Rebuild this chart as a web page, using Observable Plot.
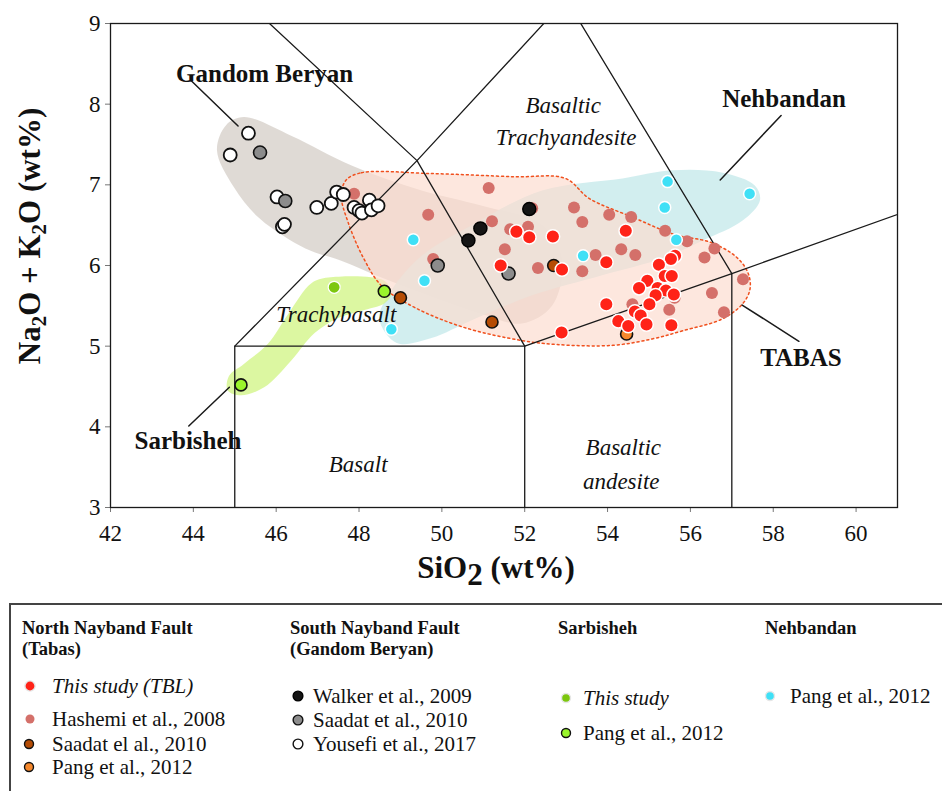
<!DOCTYPE html>
<html><head><meta charset="utf-8">
<script src="https://cdn.jsdelivr.net/npm/d3@7"></script>
<script src="https://cdn.jsdelivr.net/npm/@observablehq/plot@0.6"></script>
<style>
body{margin:0;background:#fff;}
#wrap{position:relative;width:942px;height:791px;overflow:hidden;background:#fff;}
#chart svg, #legend svg{display:block;}
</style></head><body>
<div id="wrap"><div id="chart"></div><div id="legend"></div></div>
<script>
// ---------- axis ticks ----------
const xTicks = [42,44,46,48,50,52,54,56,58,60];
const yTicks = [3,4,5,6,7,8,9];

// ---------- data (SiO2, Na2O+K2O) ----------
const tblThisStudy = [[51.80,6.42],[52.11,6.35],[52.68,6.36],[51.42,6.00],[52.90,5.95],[52.89,5.17],[54.44,6.43],[53.97,6.04],
  [55.63,6.12],[55.53,6.08],[55.24,6.01],[55.38,5.87],[55.55,5.87],[54.96,5.81],[54.76,5.72],[55.21,5.72],[55.41,5.69],
  [55.16,5.63],[55.60,5.64],[55.01,5.52],[53.97,5.52],[54.66,5.43],[54.80,5.38],[54.26,5.31],[54.94,5.27],[55.54,5.26],[54.50,5.25]];
const hashemi2008 = [[47.88,6.89],[49.67,6.63],[49.79,6.08],[51.13,6.96],[52.18,6.71],[53.19,6.72],[51.21,6.55],[51.65,6.45],
  [52.08,6.48],[51.52,6.20],[52.32,5.97],[54.04,6.63],[54.57,6.60],[53.39,6.54],[55.39,6.43],[55.92,6.30],[54.33,6.20],
  [53.71,6.13],[54.67,6.13],[56.58,6.21],[56.34,6.10],[53.39,5.93],[57.27,5.83],[56.52,5.66],[54.60,5.52],[55.49,5.45],[56.81,5.42],[55.62,5.60]];
const saadatTabas2010 = [[49.00,5.60],[51.21,5.30],[52.70,6.00]];
const pangTabas2012 = [[54.46,5.15]];
const walker2009 = [[50.64,6.31],[50.93,6.46],[52.11,6.70]];
const saadatGB2010 = [[45.61,7.40],[46.22,6.80],[49.90,6.00],[51.61,5.90]];
const yousefi2017 = [[45.33,7.64],[44.89,7.37],[46.02,6.85],[46.15,6.48],[46.20,6.51],[46.98,6.72],[47.33,6.77],[47.46,6.91],
  [47.62,6.88],[47.88,6.72],[48.00,6.68],[48.07,6.65],[48.25,6.81],[48.30,6.69],[48.46,6.74]];
const sarbThisStudy = [[47.40,5.73]];
const sarbPang2012 = [[48.61,5.68],[45.15,4.52]];
const nehPang2012 = [[49.31,6.32],[49.58,5.81],[48.78,5.21],[53.41,6.12],[55.38,6.72],[55.45,7.04],[55.66,6.32],[57.43,6.89]];

// ---------- field outlines (data units) ----------
const gandomField = [[45.22,7.84],[46.36,7.61],[47.82,7.24],[49.51,6.93],[50.97,6.74],[52.42,6.50],[52.90,6.06],[52.66,5.50],
  [51.93,5.28],[50.97,5.40],[49.75,5.62],[48.54,5.85],[47.57,6.06],[46.85,6.18],[46.29,6.33],[45.56,6.60],[44.98,6.97],[44.57,7.43],[44.79,7.74]];
const nehbandanField = [[48.49,5.34],[48.78,5.69],[49.51,6.12],[50.72,6.50],[52.42,6.93],[54.36,7.08],[55.57,7.18],[56.78,7.15],
  [57.56,6.99],[57.68,6.81],[57.27,6.56],[56.30,6.31],[55.33,6.09],[53.87,5.88],[52.18,5.63],[50.72,5.32],[49.75,5.10],[48.91,5.04]];
const tabasField = [[47.69,7.06],[48.06,7.15],[49.75,7.14],[51.76,7.10],[52.98,7.08],[53.56,6.83],[54.60,6.60],[55.64,6.38],
  [56.47,6.29],[57.10,6.11],[57.39,5.91],[57.44,5.71],[57.27,5.53],[56.78,5.34],[55.81,5.19],[55.08,5.09],[54.12,5.01],
  [52.78,5.02],[51.93,5.07],[50.55,5.23],[49.34,5.48],[48.54,5.75],[48.11,6.09],[47.74,6.53],[47.57,6.87]];
const sarbishehField = [[47.26,5.85],[48.61,5.81],[48.78,5.65],[48.61,5.53],[48.06,5.44],[47.50,5.35],[46.92,5.16],[46.36,4.82],
  [45.71,4.49],[45.15,4.39],[44.83,4.45],[44.86,4.63],[45.22,4.78],[45.80,5.03],[46.29,5.40],[46.85,5.78]];

// ---------- TAS boundaries (Le Bas et al. 1986) ----------
const tasLines = [
  [[45,3],[45,5],[52,5],[52,3]],
  [[52,5],[57,5.9],[57,3]],
  [[45,5],[49.4,7.3],[53,9.3]],
  [[52,5],[49.4,7.3],[45,9.4]],
  [[57,5.9],[53,9.3]],
  [[57,5.9],[63,7]]
];
const fieldNames = ["Basaltic","Trachyandesite","Trachybasalt","Basalt","Basaltic","andesite"];
const fieldNameX = [52.93,53.0,47.45,47.98,54.38,54.33];
const fieldNameY = [7.98,7.59,5.39,3.53,3.74,3.32];

const areaNames = ["Gandom Beryan","Nehbandan","TABAS","Sarbisheh"];
const areaNameX = [45.72,58.26,58.67,43.87];
const areaNameY = [8.38,8.06,4.85,3.83];
const leaders = [
  [[43.95,8.29],[45.08,7.73]],
  [[58.19,7.86],[56.72,7.06]],
  [[57.25,5.51],[58.62,5.06]],
  [[43.89,4.01],[44.87,4.49]]
];

// ---------- styles ----------
const S = {
  tbl:{fill:"#ff2318",stroke:"#ffffff",strokeWidth:1.5,r:6.8},
  hashemi:{fill:"#d4706a",stroke:"none",strokeWidth:0,r:6},
  saadatT:{fill:"#b54c05",stroke:"#111",strokeWidth:1.6,r:6},
  pangT:{fill:"#f5882c",stroke:"#111",strokeWidth:1.6,r:6},
  walker:{fill:"#151515",stroke:"#000",strokeWidth:1.5,r:6.5},
  saadatGB:{fill:"#8c8c8c",stroke:"#111",strokeWidth:1.6,r:6.5},
  yousefi:{fill:"#ffffff",stroke:"#111",strokeWidth:1.8,r:6.5},
  sarbThis:{fill:"#7cc70e",stroke:"#ffffff",strokeWidth:1.2,r:6},
  sarbPang:{fill:"#9af52c",stroke:"#111",strokeWidth:1.6,r:6},
  neh:{fill:"#3fe0f6",stroke:"#ffffff",strokeWidth:1.5,r:6}
};
const serif = "Liberation Serif, Times New Roman, serif";
const dots = (arr, s) => Plot.dot(arr, {x: d => d[0], y: d => d[1], r: s.r, fill: s.fill, stroke: s.stroke, strokeWidth: s.strokeWidth});
const field = (arr, fill, opacity) => Plot.line(arr, {x: d => d[0], y: d => d[1], curve: "catmull-rom-closed", fill, fillOpacity: opacity, stroke: "none"});

const chart = Plot.plot({
  width: 942, height: 603,
  marginLeft: 110, marginRight: 45, marginTop: 23, marginBottom: 96,
  style: {fontFamily: serif, fontSize: "23px", color: "#111", background: "#fff", overflow: "visible"},
  x: {domain: [42, 61], ticks: xTicks, tickFormat: d => String(d), tickSize: 5, tickPadding: 12, label: null},
  y: {domain: [3, 9], ticks: yTicks, tickFormat: d => String(d), tickSize: 5, tickPadding: 5, label: null},
  marks: [
    field(gandomField, "#d9d4ce", 0.85),
    field(nehbandanField, "#cdeced", 0.9),
    field(sarbishehField, "#d3f58a", 0.8),
    field(tabasField, "#fcdccf", 0.68),
    Plot.line(tabasField, {x: d => d[0], y: d => d[1], curve: "catmull-rom-closed", stroke: "#f0501e", strokeWidth: 1.5, strokeDasharray: "2,3", fill: "none"}),
    ...tasLines.map(l => Plot.line(l, {x: d => d[0], y: d => d[1], stroke: "#1a1a1a", strokeWidth: 1.3, clip: true})),
    ...leaders.map(l => Plot.line(l, {x: d => d[0], y: d => d[1], stroke: "#1a1a1a", strokeWidth: 1.5})),
    Plot.text(fieldNames, {x: (d, i) => fieldNameX[i], y: (d, i) => fieldNameY[i], text: d => d, fontStyle: "italic", fontSize: 23, fill: "#111", fontFamily: serif}),
    Plot.text(areaNames, {x: (d, i) => areaNameX[i], y: (d, i) => areaNameY[i], text: d => d, fontWeight: "bold", fontSize: 25, fill: "#111", fontFamily: serif}),
    dots(hashemi2008, S.hashemi),
    dots(nehPang2012, S.neh),
    dots(yousefi2017, S.yousefi),
    dots(saadatGB2010, S.saadatGB),
    dots(walker2009, S.walker),
    dots(saadatTabas2010, S.saadatT),
    dots(pangTabas2012, S.pangT),
    dots(sarbThisStudy, S.sarbThis),
    dots(sarbPang2012, S.sarbPang),
    dots(tblThisStudy, S.tbl),
    Plot.frame({stroke: "#1a1a1a", strokeWidth: 1.3})
  ]
});
document.getElementById("chart").appendChild(chart);

// axis titles
const svg = d3.select(chart);
svg.selectAll('g[aria-label="x-axis tick"], g[aria-label="y-axis tick"]').attr("stroke", "#777");
const xt = svg.append("text").attr("x", 496).attr("y", 578).attr("text-anchor", "middle")
  .attr("font-family", serif).attr("font-weight", "bold").attr("font-size", 31).attr("fill", "#111");
xt.append("tspan").text("SiO");
xt.append("tspan").attr("dy", 7).text("2");
xt.append("tspan").attr("dy", -7).text(" (wt%)");
const yt = svg.append("text").attr("transform", "translate(40,236) rotate(-90)").attr("text-anchor", "middle")
  .attr("font-family", serif).attr("font-weight", "bold").attr("font-size", 31).attr("fill", "#111");
yt.append("tspan").text("Na");
yt.append("tspan").attr("dy", 6).attr("font-size", 21).text("2");
yt.append("tspan").attr("dy", -6).text("O + K");
yt.append("tspan").attr("dy", 6).attr("font-size", 21).text("2");
yt.append("tspan").attr("dy", -6).text("O (wt%)");

// ---------- legend ----------
const legendHeaders = [
  {lines: ["North Nayband Fault", "(Tabas)"], x: 22},
  {lines: ["South Nayband Fault", "(Gandom Beryan)"], x: 290},
  {lines: ["Sarbisheh"], x: 558},
  {lines: ["Nehbandan"], x: 765}
];
const legendItems = [
  {label: "This study (TBL)", italic: true, s: S.tbl, mx: 30, tx: 52, y: 686},
  {label: "Hashemi et al., 2008", s: S.hashemi, mx: 30, tx: 52, y: 719},
  {label: "Saadat el al., 2010", s: S.saadatT, mx: 29, tx: 52, y: 744},
  {label: "Pang et al., 2012", s: S.pangT, mx: 29, tx: 52, y: 767},
  {label: "Walker et al., 2009", s: S.walker, mx: 298, tx: 313, y: 696},
  {label: "Saadat et al., 2010", s: S.saadatGB, mx: 298, tx: 313, y: 720},
  {label: "Yousefi et al., 2017", s: S.yousefi, mx: 298, tx: 313, y: 744},
  {label: "This study", italic: true, s: S.sarbThis, mx: 566, tx: 583, y: 698},
  {label: "Pang et al., 2012", s: S.sarbPang, mx: 566, tx: 583, y: 733},
  {label: "Pang et al., 2012", s: S.neh, mx: 770, tx: 790, y: 696}
];
const top0 = 603;
const lg = d3.select("#legend").append("svg").attr("width", 942).attr("height", 188);
lg.append("rect").attr("x", 10).attr("y", 1).attr("width", 1000).attr("height", 300)
  .attr("fill", "none").attr("stroke", "#444").attr("stroke-width", 2);
legendHeaders.forEach(h => {
  h.lines.forEach((t, i) => {
    lg.append("text").attr("x", h.x).attr("y", 634 - top0 + i * 21).text(t)
      .attr("font-family", serif).attr("font-weight", "bold").attr("font-size", 18.5).attr("fill", "#111");
  });
});
legendItems.forEach(it => {
  lg.append("circle").attr("cx", it.mx).attr("cy", it.y - top0).attr("r", it.s.r * 0.75)
    .attr("fill", it.s.fill).attr("stroke", it.s.stroke === "#ffffff" ? "#e6e6e6" : it.s.stroke)
    .attr("stroke-width", it.s.strokeWidth ? 1.4 : 0);
  lg.append("text").attr("x", it.tx).attr("y", it.y - top0 + 7).text(it.label)
    .attr("font-family", serif).attr("font-size", 21).attr("fill", "#111")
    .attr("font-style", it.italic ? "italic" : "normal");
});
</script>
</body></html>
